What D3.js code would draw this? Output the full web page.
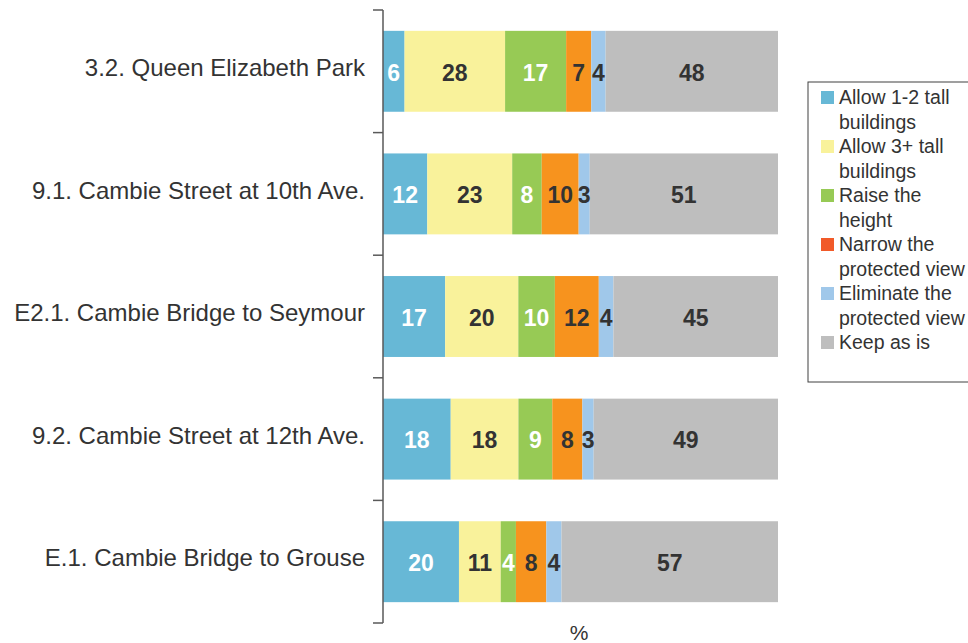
<!doctype html>
<html>
	<head>
		<meta charset="UTF-8">
		<script src="https://d3js.org/d3.v7.min.js"></script>
		<style>
			body { margin: 0; background: #fff; }
			svg { font-family: Arial, "Liberation Sans", sans-serif; }
		</style>
	</head>
	<body>
		<script>
			// categories, top to bottom
			const categories = [
				"3.2. Queen Elizabeth Park",
				"9.1. Cambie Street at 10th Ave.",
				"E2.1. Cambie Bridge to Seymour",
				"9.2. Cambie Street at 12th Ave.",
				"E.1. Cambie Bridge to Grouse"
			];
			const seriesKeys = ["allow12", "allow3", "raise", "narrow", "eliminate", "keep"];
			const seriesNames = [
				["Allow 1-2 tall", "buildings"],
				["Allow 3+ tall", "buildings"],
				["Raise the", "height"],
				["Narrow the", "protected view"],
				["Eliminate the", "protected view"],
				["Keep as is"]
			];
			const allow12   = [6, 12, 17, 18, 20];
			const allow3    = [28, 23, 20, 18, 11];
			const raise     = [17, 8, 10, 9, 4];
			const narrow    = [7, 10, 12, 8, 8];
			const eliminate = [4, 3, 4, 3, 4];
			const keep      = [48, 51, 45, 49, 57];

			const barColors = ["#67b8d6", "#f9f29b", "#97ca55", "#f7931e", "#a0c8ea", "#bebebe"];
			const legendColors = ["#67b8d6", "#f9f29b", "#97ca55", "#f15a29", "#a0c8ea", "#bebebe"];
			const labelColors = ["#fff", "#333", "#fff", "#333", "#333", "#333"];

			const W = 968, H = 643;

			const svg = d3.select("body").append("svg")
				.attr("width", W)
				.attr("height", H);

			const rows = categories.map(function(c, i){
				return {cat: c, allow12: allow12[i], allow3: allow3[i], raise: raise[i],
					narrow: narrow[i], eliminate: eliminate[i], keep: keep[i]};
			});

			const stack = d3.stack().keys(seriesKeys).offset(d3.stackOffsetExpand);
			const series = stack(rows);

			const x = d3.scaleLinear().domain([0, 1]).range([383, 778]);
			const y = d3.scaleBand().domain(categories).range([10, 623]).paddingInner(0.34).paddingOuter(0.17);
			const yTicks = d3.scaleLinear().domain([0, categories.length]).range([10, 623]);

			// bars
			const groups = svg.selectAll("g.series")
				.data(series)
				.enter().append("g")
				  .attr("class", "series")
				  .attr("fill", function(d, i){ return barColors[i]; });

			groups.selectAll("rect")
				.data(function(d){ return d; })
				.enter().append("rect")
				  .attr("x", function(d){ return x(d[0]); })
				  .attr("y", function(d){ return y(d.data.cat); })
				  .attr("width", function(d){ return x(d[1]) - x(d[0]); })
				  .attr("height", y.bandwidth());

			// value labels
			series.forEach(function(s, i){
				svg.append("g").selectAll("text")
					.data(s)
					.enter().append("text")
					  .attr("x", function(d){ return (x(d[0]) + x(d[1])) / 2; })
					  .attr("y", function(d){ return y(d.data.cat) + y.bandwidth() / 2 + 1; })
					  .attr("dy", "0.36em")
					  .attr("text-anchor", "middle")
					  .attr("font-size", "23px")
					  .attr("font-weight", "bold")
					  .attr("fill", labelColors[i])
					  .text(function(d){ return d.data[s.key]; });
			});

			// category axis
			const axisG = svg.append("g").attr("stroke", "#595959").attr("stroke-width", 1.5);
			axisG.append("line")
				.attr("x1", 383).attr("x2", 383)
				.attr("y1", 10).attr("y2", 623);
			axisG.selectAll("line.tick")
				.data(d3.range(categories.length + 1))
				.enter().append("line")
				  .attr("class", "tick")
				  .attr("x1", 373).attr("x2", 383)
				  .attr("y1", function(d){ return yTicks(d); })
				  .attr("y2", function(d){ return yTicks(d); });

			svg.append("g").selectAll("text")
				.data(categories)
				.enter().append("text")
				  .attr("x", 365)
				  .attr("y", function(d){ return y(d) + y.bandwidth() / 2 - 4; })
				  .attr("dy", "0.36em")
				  .attr("text-anchor", "end")
				  .attr("font-size", "24px")
				  .attr("fill", "#333")
				  .text(function(d){ return d; });

			svg.append("text")
				.attr("x", 579)
				.attr("y", 640)
				.attr("text-anchor", "middle")
				.attr("font-size", "21px")
				.attr("fill", "#333")
				.text("%");

			// legend
			const legend = svg.append("g");
			legend.append("rect")
				.attr("x", 808).attr("y", 82)
				.attr("width", 170).attr("height", 300)
				.attr("fill", "#fff")
				.attr("stroke", "#404040")
				.attr("stroke-width", 1);

			let ly = 97;
			seriesNames.forEach(function(lines, i){
				legend.append("rect")
					.attr("x", 821).attr("y", ly - 6)
					.attr("width", 13).attr("height", 13)
					.attr("fill", legendColors[i]);
				lines.forEach(function(t, j){
					legend.append("text")
						.attr("x", 839)
						.attr("y", ly + j * 24.5)
						.attr("dy", "0.36em")
						.attr("font-size", "19.5px")
						.attr("fill", "#333")
						.text(t);
				});
				ly += lines.length * 24.5;
			});
		</script>
	</body>
</html>
